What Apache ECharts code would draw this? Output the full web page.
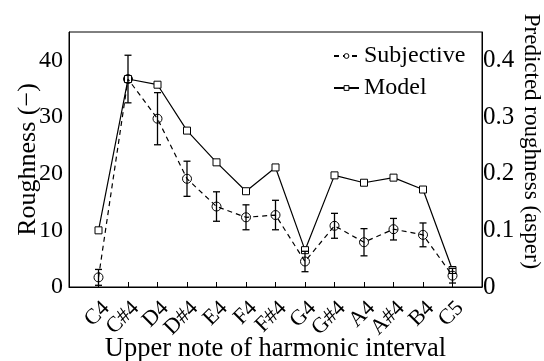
<!DOCTYPE html>
<html><head><meta charset="utf-8">
<script src="https://cdn.jsdelivr.net/npm/echarts@6/dist/echarts.min.js"></script>
<style>html,body{margin:0;padding:0;background:#fff}#c{width:544px;height:361px}</style>
</head><body><div id="c"></div>
<script>
var categories = ['C4','C#4','D4','D#4','E4','F4','F#4','G4','G#4','A4','A#4','B4','C5'];
var subjective = [1.7, 36.7, 29.7, 19.1, 14.2, 12.3, 12.7, 4.5, 10.8, 7.9, 10.2, 9.2, 2.0];
var subjectiveErr = [1.4, 4.2, 4.6, 3.1, 2.6, 2.2, 2.6, 1.8, 2.2, 2.4, 1.9, 2.1, 1.3];
var model = [0.100, 0.367, 0.357, 0.276, 0.220, 0.169, 0.211, 0.065, 0.197, 0.184, 0.193, 0.172, 0.030];
var leftTicks = [0, 10, 20, 30, 40];
var rightTicks = [0, 0.1, 0.2, 0.3, 0.4];

var FONT = 'Liberation Serif';
var chart = echarts.init(document.getElementById('c'), null, {renderer: 'canvas'});

// pad the category axis with one empty slot on each side
var axisCats = [''].concat(categories).concat(['']);
var subjData = subjective.map(function (v, i) { return [i + 1, v]; });
var modelData = model.map(function (v, i) { return [i + 1, v]; });
var errData = subjective.map(function (v, i) {
  return [i + 1, Math.max(0, v - subjectiveErr[i]), v + subjectiveErr[i]];
});

var hollow = {color: '#fff', borderColor: '#000', borderWidth: 1};

chart.setOption({
  animation: false,
  textStyle: {fontFamily: FONT, color: '#000'},
  grid: {left: 69, right: 62, top: 32, bottom: 74, show: true, borderColor: '#000', borderWidth: 1,
    backgroundColor: 'transparent', containLabel: false, outerBoundsMode: 'none'},
  legend: {
    orient: 'vertical', left: 328, top: 39, itemGap: 8, itemWidth: 25, itemHeight: 6,
    textStyle: {fontFamily: FONT, fontSize: 24, color: '#000'},
    data: [
      {name: 'Subjective', itemStyle: hollow},
      {name: 'Model', itemStyle: hollow}
    ]
  },
  xAxis: {
    type: 'category', data: axisCats, boundaryGap: false,
    name: 'Upper note of harmonic interval', nameLocation: 'middle', nameGap: 49, nameMoveOverlap: false,
    nameTextStyle: {fontFamily: FONT, fontSize: 26.5, color: '#000'},
    axisLine: {lineStyle: {color: '#000', width: 1}},
    axisTick: {inside: true, length: 5, lineStyle: {color: '#000'},
      interval: function (idx) { return idx > 0 && idx < axisCats.length - 1; }},
    axisLabel: {
      rotate: 45, fontFamily: FONT, fontSize: 22, color: '#000', margin: 10,
      interval: 0, verticalAlign: 'top'
    },
    splitLine: {show: false}
  },
  yAxis: [{
    type: 'value', min: 0, max: 45, interval: 10,
    name: 'Roughness (\u2212)', nameLocation: 'middle', nameGap: 28, nameRotate: 90, nameMoveOverlap: false,
    nameTextStyle: {fontFamily: FONT, fontSize: 26, color: '#000'},
    axisLine: {show: true, lineStyle: {color: '#000'}},
    axisTick: {inside: true, length: 5, lineStyle: {color: '#000'}, customValues: leftTicks},
    axisLabel: {fontFamily: FONT, fontSize: 24, color: '#000', margin: 6, customValues: leftTicks},
    splitLine: {show: false}
  }, {
    type: 'value', min: 0, max: 0.45, interval: 0.1,
    name: 'Predicted roughness (asper)', nameLocation: 'middle', nameGap: 38, nameRotate: -90, nameMoveOverlap: false,
    nameTextStyle: {fontFamily: FONT, fontSize: 23, color: '#000', padding: [0, 36, 0, 0]},
    axisLine: {show: true, lineStyle: {color: '#000'}},
    axisTick: {inside: true, length: 5, lineStyle: {color: '#000'}, customValues: rightTicks},
    axisLabel: {fontFamily: FONT, fontSize: 25, color: '#000', margin: 1, customValues: rightTicks,
      formatter: function (v) { return v === 0 ? '0' : String(Math.round(v * 10) / 10); }},
    splitLine: {show: false}
  }],
  series: [{
    name: 'Subjective', type: 'line', yAxisIndex: 0, data: subjData,
    symbol: 'circle', symbolSize: 9,
    itemStyle: {color: 'rgba(255,255,255,0)', borderColor: '#000', borderWidth: 1},
    lineStyle: {color: '#000', width: 1.2, type: [5, 4]},
    z: 3
  }, {
    name: 'Model', type: 'line', yAxisIndex: 1, data: modelData,
    symbol: 'rect', symbolSize: 7,
    itemStyle: {color: '#fff', borderColor: '#000', borderWidth: 1},
    lineStyle: {color: '#000', width: 1.2},
    z: 2
  }, {
    name: 'err', type: 'custom', yAxisIndex: 0, data: errData, z: 4,
    encode: {x: 0, y: [1, 2]},
    renderItem: function (params, api) {
      var lo = api.coord([api.value(0), api.value(1)]);
      var hi = api.coord([api.value(0), api.value(2)]);
      var w = 3.5;
      var st = {stroke: '#000', lineWidth: 1.3};
      return {type: 'group', children: [
        {type: 'line', shape: {x1: lo[0], y1: lo[1], x2: hi[0], y2: hi[1]}, style: st},
        {type: 'line', shape: {x1: lo[0] - w, y1: lo[1], x2: lo[0] + w, y2: lo[1]}, style: st},
        {type: 'line', shape: {x1: hi[0] - w, y1: hi[1], x2: hi[0] + w, y2: hi[1]}, style: st}
      ]};
    }
  }]
});
</script></body></html>
